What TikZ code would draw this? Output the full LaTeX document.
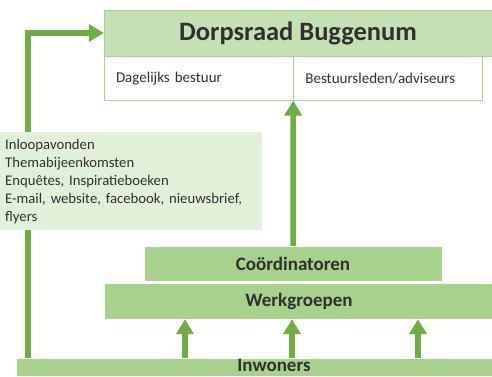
\documentclass[tikz,border=0pt]{standalone}
\usepackage{fontspec}
\setmainfont{Carlito}
\usetikzlibrary{arrows.meta,positioning}

\definecolor{kopgroen}{HTML}{C5E0B4}
\definecolor{lichtgroen}{HTML}{E2F0D9}
\definecolor{middengroen}{HTML}{A9D18E}
\definecolor{donkergroen}{HTML}{70AD47}
\definecolor{tekst}{HTML}{303030}

\begin{document}
\begin{tikzpicture}[x=1pt,y=-1pt,>={Triangle[width=17pt,length=15pt]},text=tekst]
  \tikzstyle{blok}=[draw=white,fill=middengroen,font=\bfseries\fontsize{19}{21}\selectfont,inner sep=0pt]
  \tikzstyle{vak}=[draw=middengroen,fill=white,anchor=north west,minimum height=44pt,inner xsep=12pt,inner ysep=0pt,align=left,text width=165pt,font=\fontsize{15}{18}\selectfont]
  \tikzstyle{pijl}=[->,draw=donkergroen,line width=5.5pt]

  \clip (0,0) rectangle (492,376);
  \fill[white] (0,0) rectangle (492,376);

  \node[draw=middengroen,fill=kopgroen,minimum width=388pt,minimum height=46pt,font=\bfseries\fontsize{26.5}{30}\selectfont] (raad) at (298,33) {Dorpsraad Buggenum};
  \node[vak] (dagelijks) at (raad.south west) {Dagelijks bestuur};
  \node[vak] (leden) at (dagelijks.north east) {Bestuursleden/adviseurs};

  \node[blok,minimum width=298pt,minimum height=35pt] (coord) at (293,263.5) {Coördinatoren};
  \node[blok,minimum width=390pt,minimum height=36pt] (werk) at (299,301) {Werkgroepen};
  \node[blok,minimum width=516pt,minimum height=18pt,text depth=4pt] (inwoners) at (274,367) {Inwoners};

  \coordinate (links) at (28,0);
  \draw[pijl] (links |- inwoners.north) |- (raad.west);
  \draw[pijl] (coord.north) -- (dagelijks.south east);
  \foreach \x in {185,292,418}
    \draw[pijl] (\x,0 |- inwoners.north) -- (\x,0 |- werk.south);

  \node[fill=lichtgroen,anchor=north west,minimum width=260pt,minimum height=98pt,inner xsep=5pt,text width=252pt,align=left,font=\fontsize{14.7}{18}\selectfont] (kanalen) at (0,132)
    {Inloopavonden\\Themabijeenkomsten\\Enquêtes, Inspiratieboeken\\E-mail, website, facebook, nieuwsbrief,\\flyers};
\end{tikzpicture}
\end{document}
